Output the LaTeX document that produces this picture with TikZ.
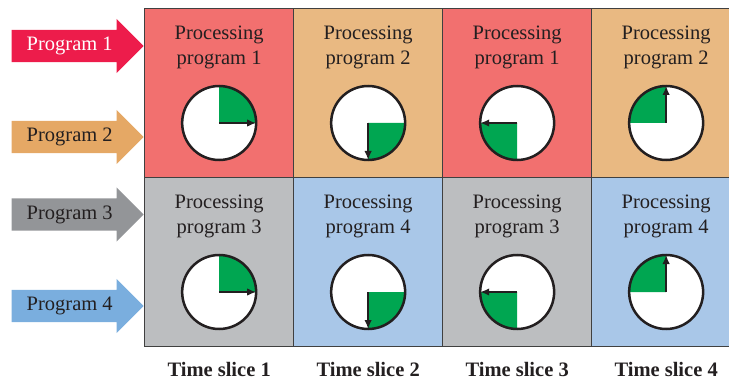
\documentclass[tikz,border=0pt]{standalone}
\usepackage{fontspec}
\setmainfont{Liberation Serif}
\usetikzlibrary{shapes.arrows,positioning,arrows.meta}
\definecolor{cellred}{HTML}{F2706F}
\definecolor{cellorange}{HTML}{E9B982}
\definecolor{cellgray}{HTML}{BCBEC0}
\definecolor{cellblue}{HTML}{A9C7E8}
\definecolor{progred}{HTML}{ED1C4B}
\definecolor{progorange}{HTML}{E5A865}
\definecolor{proggray}{HTML}{939598}
\definecolor{progblue}{HTML}{7AAEDE}
\definecolor{clockgreen}{HTML}{00A651}
\definecolor{gridline}{HTML}{404040}
\definecolor{ink}{HTML}{231F20}

\begin{document}
\begin{tikzpicture}[
x=1pt,y=1pt,
cell/.style={
  draw=gridline,
  line width=1.3pt,
  minimum width=149pt,
  minimum height=169pt,
  inner sep=0pt,
  anchor=north west
  },
caption/.style={
  align=center,
  text=ink,
  font=\fontsize{20.5}{25}\selectfont,
  inner sep=0pt
  },
prog/.style={
  single arrow,
  single arrow head extend=11pt,
  minimum height=132pt,
  text height=32pt,
  text depth=0pt,
  inner sep=0pt,
  anchor=tip
  },
progtext/.style={
  font=\fontsize{20.5}{25}\selectfont,
  inner sep=0pt,
  anchor=west
  },
clock/.style={
  circle,
  fill=white,
  minimum size=74pt,
  inner sep=0pt,
  outer sep=0pt
  },
rim/.style={
  draw=ink,
  line width=2.5pt
  },
hand/.style={
  -{Latex[length=9pt,width=7.5pt]},
  draw=ink,
  line width=2.2pt
  },
slice/.style={
  font=\bfseries\fontsize{20.5}{25}\selectfont,
  text=ink,
  inner sep=0pt
  },
>=latex
]
\useasboundingbox (0,0) rectangle (729,381);

% programs waiting on the left
\foreach \i/\y/\col/\txt in {1/335/progred/white,2/244/progorange/ink,3/166.5/proggray/ink,4/75/progblue/ink}
{
  \node[prog, fill=\col] (prog\i) at (144,\y) {};
  \node[progtext, text=\txt, right=15pt of prog\i.tail] (progtext\i) {Program \i};
}

% time slices
\foreach \c/\ca/\cb/\pa/\pb in {1/cellred/cellgray/1/3,2/cellorange/cellblue/2/4,3/cellred/cellgray/1/3,4/cellorange/cellblue/2/4}
{
  \pgfmathsetmacro\xl{144+149*(\c-1)}
  \pgfmathsetmacro\ang{90-90*\c}
  \node[cell, fill=\ca] (cell-1-\c) at (\xl,373) {};
  \node[cell, fill=\cb] (cell-2-\c) at (\xl,204) {};
  \foreach \r/\p in {1/\pa,2/\pb}
  {
    \node[caption] (cap-\r-\c) at ([yshift=-39.5pt]cell-\r-\c.north) {Processing\\program \p};
    \node[clock] (clk-\r-\c) at ([yshift=-115pt]cell-\r-\c.north) {};
    \fill[clockgreen] (clk-\r-\c.center) -- (clk-\r-\c.\ang) arc[start angle=\ang, delta angle=90, radius=37pt] -- cycle;
    \draw[rim] (clk-\r-\c.center) circle[radius=37pt];
    \draw[hand] (clk-\r-\c.center) -- (clk-\r-\c.\ang);
  }
  \node[slice] (slice-\c) at (cell-2-\c.south |- 0,12) {Time slice \c};
}

\end{tikzpicture}
\end{document}
